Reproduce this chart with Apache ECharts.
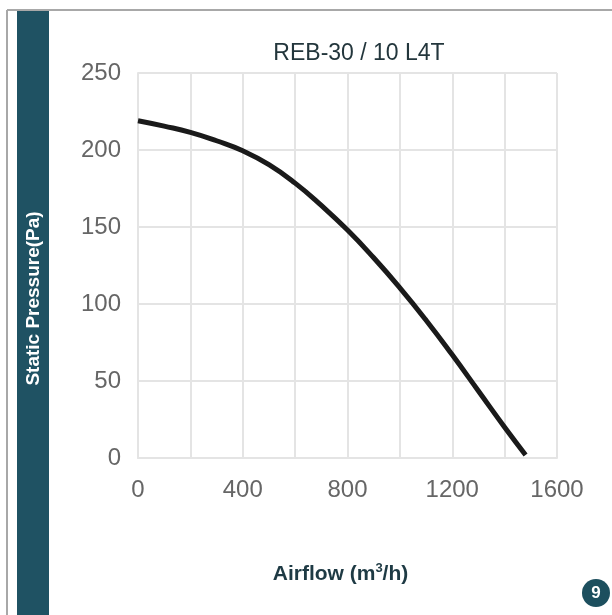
<!DOCTYPE html>
<html>
<head>
<meta charset="utf-8">
<script src="https://cdn.jsdelivr.net/npm/echarts@6/dist/echarts.min.js"></script>
<style>
html,body{margin:0;padding:0;background:#ffffff;}
#chart{width:612px;height:615px;}
</style>
</head>
<body>
<div id="chart"></div>
<script>
var chartTitle = 'REB-30 / 10 L4T';
var xAxisName = 'Airflow (m{sup|3}/h)';
var yAxisName = 'Static Pressure(Pa)';
var badgeText = '9';
var airflow = [0, 100, 200, 300, 400, 500, 600, 700, 800, 900, 1000, 1100, 1200, 1300, 1400, 1480];
var pressure = [219, 215.5, 211.5, 206, 199.5, 190.5, 178.5, 164, 148, 130, 110.5, 89.5, 67, 43.5, 20, 2];

var points = airflow.map(function (x, i) { return [x, pressure[i]]; });

var chart = echarts.init(document.getElementById('chart'), null, {renderer: 'canvas'});
var gridColor = '#e4e4e4';
var labelColor = '#666666';
chart.setOption({
  backgroundColor: '#ffffff',
  animation: false,
  title: {
    text: chartTitle,
    left: 354,
    top: 37,
    textAlign: 'center',
    textStyle: {fontFamily: 'Liberation Sans, Arial', fontSize: 23, fontWeight: 'normal', color: '#23363c'}
  },
  grid: {left: 138, top: 73, right: 55, bottom: 157},
  xAxis: {
    type: 'value',
    min: 0, max: 1600, interval: 400,
    name: xAxisName,
    nameLocation: 'middle',
    nameGap: 104,
    nameTextStyle: {
      fontFamily: 'Liberation Sans, Arial', fontSize: 21, fontWeight: 'bold', color: '#1e3a44',
      padding: [0, 14, 0, 0],
      rich: {sup: {fontSize: 13, fontWeight: 'bold', color: '#1e3a44', verticalAlign: 'top', padding: [0, 0, 12, 0]}}
    },
    axisLine: {show: true, lineStyle: {color: gridColor, width: 2}},
    axisTick: {show: false},
    minorTick: {show: false, splitNumber: 2},
    minorSplitLine: {show: true, lineStyle: {color: gridColor, width: 2}},
    splitLine: {show: true, lineStyle: {color: gridColor, width: 2}},
    axisLabel: {margin: 20, fontFamily: 'Liberation Sans, Arial', fontSize: 24, color: labelColor,
      formatter: function (v) { return String(v); }}
  },
  yAxis: {
    type: 'value',
    min: 0, max: 250, interval: 50,
    name: yAxisName,
    nameLocation: 'middle',
    nameRotate: 90,
    nameGap: 95,
    nameTextStyle: {fontFamily: 'Liberation Sans, Arial', fontSize: 19, fontWeight: 'bold', color: '#ffffff', padding: [0, 66, 0, 0]},
    axisLine: {show: true, lineStyle: {color: gridColor, width: 2}},
    axisTick: {show: false},
    splitLine: {show: true, lineStyle: {color: gridColor, width: 2}},
    axisLabel: {margin: 17, fontFamily: 'Liberation Sans, Arial', fontSize: 24, color: labelColor}
  },
  graphic: [
    {type: 'line', z: -10, shape: {x1: 7, y1: 10, x2: 7, y2: 615}, style: {stroke: '#a8a8a8', lineWidth: 2}},
    {type: 'line', z: -10, shape: {x1: 7, y1: 10, x2: 612, y2: 10}, style: {stroke: '#a8a8a8', lineWidth: 2}},
    {type: 'rect', z: -5, shape: {x: 17, y: 11, width: 32, height: 604}, style: {fill: '#1f5263'}},
    {type: 'circle', shape: {cx: 596, cy: 593, r: 14}, style: {fill: '#1d4f5e'}},
    {type: 'text', x: 596, y: 593, style: {text: badgeText, fill: '#ffffff', font: 'bold 17px Liberation Sans, Arial', align: 'center', verticalAlign: 'middle'}}
  ],
  series: [{
    type: 'line',
    data: points,
    smooth: true,
    showSymbol: false,
    lineStyle: {color: '#1a1a1a', width: 5}
  }]
});
</script>
</body>
</html>
